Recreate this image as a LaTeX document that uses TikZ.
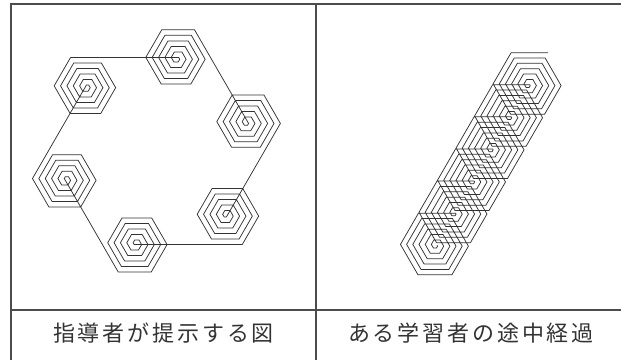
\documentclass[tikz,border=0pt]{standalone}
\usepackage{fontspec}
\newfontfamily\jpfont[LetterSpace=13]{Noto Sans CJK JP}
\begin{document}
\begin{tikzpicture}[x=1pt,y=1pt,
  frame/.style={draw=black!70,line width=1.1pt},
  turtle/.style={draw=black!80,line width=0.75pt,line join=miter},
  caption/.style={font=\jpfont\fontsize{22}{26}\selectfont,text=black!80}]
\useasboundingbox (0,0) rectangle (621,360);
\coordinate (teacher) at (177.6,302.6);
\coordinate (learner) at (437,114.7);
\draw[frame] (11,0) -- (11,356) -- (621,356);
\draw[frame] (316,0) -- (316,356);
\draw[frame] (11,50) -- (621,50);
\draw[turtle] (teacher) \foreach \k in {0,...,5}{ \foreach \i in {1,...,31}{ -- ++({-60*\k-60*(\i-1)}:{1.06*\i}) } -- ++({-60*\k-60}:107) };
\draw[turtle] (learner) \foreach \k in {1,...,6}{ \foreach \i in {1,...,36}{ -- ++({-60*\i}:{1.03*\i}) } };
\node[caption] (teacher label) at (163.5,27) {指導者が提示する図};
\node[caption] (learner label) at (471,27) {ある学習者の途中経過};
\end{tikzpicture}
\end{document}
